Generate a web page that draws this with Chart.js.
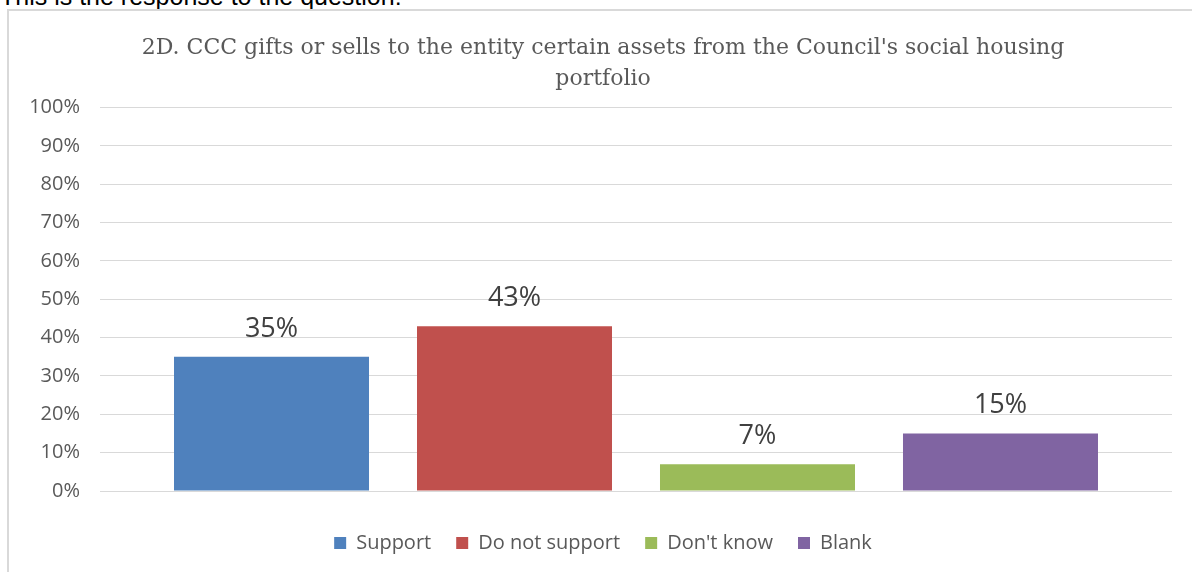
<!DOCTYPE html>
<html>
<head>
<meta charset="utf-8">
<script src="https://cdn.jsdelivr.net/npm/chart.js@4/dist/chart.umd.min.js"></script>
<style>
  html, body { margin: 0; padding: 0; width: 1192px; height: 572px; overflow: hidden; background: #fff; }
  .intro { position: absolute; left: 0; top: -16px; font: 25px "Liberation Sans", Arial, sans-serif; color: #000; line-height: 1; white-space: nowrap; }
  .frame { position: absolute; left: 7px; top: 9px; width: 1220px; height: 620px; border: 2px solid #d9d9d9; box-sizing: border-box; }
  .wrap { position: absolute; left: 0; top: 0; width: 1206px; height: 572px; }
</style>
</head>
<body>
<div class="intro">This is the response to the question:</div>
<div class="frame"></div>
<div class="wrap"><canvas id="chart" width="1206" height="572"></canvas></div>
<script>
// Survey response shares for question 2D
const titleLines = ["2D. CCC gifts or sells to the entity certain assets from the Council's social housing", "portfolio"];
const categories = ["2D"];
const seriesNames = ["Support", "Do not support", "Don't know", "Blank"];
const seriesValues = [35, 43, 7, 15];
const seriesColors = ["#4f81bd", "#c0504d", "#9bbb59", "#8064a2"];
const yTicks = [0, 10, 20, 30, 40, 50, 60, 70, 80, 90, 100];

const SANS = '"Open Sans", "Liberation Sans", Arial, sans-serif';

// Writes the percentage above each bar
const barValueLabels = {
  id: 'barValueLabels',
  afterDatasetsDraw(chart) {
    const ctx = chart.ctx;
    ctx.save();
    ctx.font = '27px ' + SANS;
    ctx.fillStyle = '#404040';
    ctx.textAlign = 'center';
    ctx.textBaseline = 'alphabetic';
    chart.data.datasets.forEach((ds, i) => {
      const meta = chart.getDatasetMeta(i);
      meta.data.forEach((bar, j) => {
        ctx.fillText(Math.round(ds.data[j]) + '%', bar.x, bar.y - 20);
      });
    });
    ctx.restore();
  }
};

const datasets = seriesNames.map((name, i) => ({
  label: name,
  data: [seriesValues[i]],
  backgroundColor: seriesColors[i],
  borderWidth: 0,
  categoryPercentage: 0.9067,
  barPercentage: 0.8025
}));

new Chart(document.getElementById('chart'), {
  type: 'bar',
  data: { labels: categories, datasets },
  plugins: [barValueLabels],
  options: {
    responsive: false,
    animation: false,
    layout: { padding: { left: 10, right: 10, top: 0, bottom: 9 } },
    plugins: {
      tooltip: { enabled: false },
      title: {
        display: true,
        text: titleLines,
        color: '#595959',
        font: { family: '"DejaVu Serif", serif', size: 22, weight: 'normal', lineHeight: 1.4 },
        padding: { top: 33, bottom: 13 }
      },
      legend: {
        position: 'bottom',
        labels: {
          color: '#595959',
          font: { family: SANS, size: 20 },
          boxWidth: 12,
          boxHeight: 12,
          padding: 25
        }
      }
    },
    scales: {
      x: {
        display: true,
        afterFit(scale) { scale.height = 17; },
        ticks: { display: false },
        grid: { display: false },
        border: { display: false }
      },
      y: {
        min: 0,
        max: 100,
        afterBuildTicks(scale) { scale.ticks = yTicks.map(v => ({ value: v })); },
        afterFit(scale) { scale.width = 90; },
        ticks: {
          color: '#595959',
          font: { family: SANS, size: 20 },
          padding: 20,
          callback: v => v + '%'
        },
        grid: { color: '#d9d9d9', lineWidth: 1, drawTicks: false },
        border: { display: false }
      },
      // empty margin on the right of the plot
      yRight: {
        position: 'right',
        display: true,
        min: 0,
        max: 100,
        afterFit(scale) { scale.width = 24; },
        ticks: { display: false },
        grid: { display: false },
        border: { display: false }
      }
    }
  }
});
</script>
</body>
</html>
